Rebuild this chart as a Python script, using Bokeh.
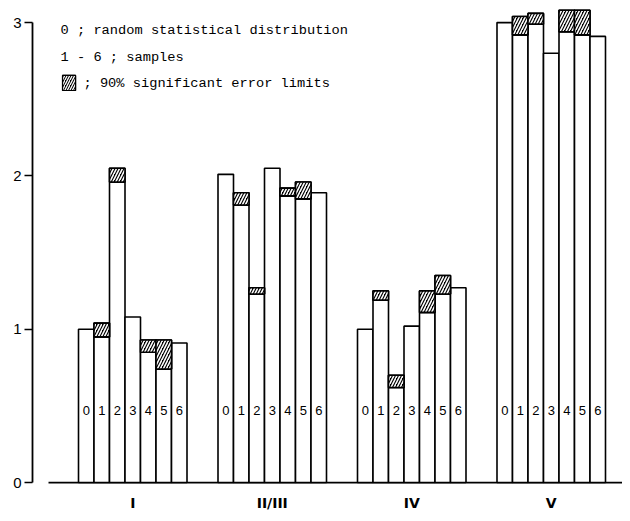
from bokeh.plotting import figure
from bokeh.models import Range1d, FixedTicker, ColumnDataSource
from bokeh.core.properties import value
from bokeh.embed import file_html
from bokeh.resources import INLINE

# ---- data ----
groups = ["I", "II/III", "IV", "V"]
samples = ["0", "1", "2", "3", "4", "5", "6"]

# top of the plain (white) part of each bar
bar_I = [1.00, 0.95, 1.96, 1.08, 0.85, 0.74, 0.91]
bar_II_III = [2.01, 1.81, 1.23, 2.05, 1.87, 1.85, 1.89]
bar_IV = [1.00, 1.19, 0.62, 1.02, 1.11, 1.23, 1.27]
bar_V = [3.00, 2.92, 2.99, 2.80, 2.94, 2.92, 2.91]

# upper 90% error limit (None = no error band drawn)
err_I = [None, 1.04, 2.05, None, 0.93, 0.93, None]
err_II_III = [None, 1.89, 1.27, None, 1.92, 1.96, None]
err_IV = [None, 1.25, 0.70, None, 1.25, 1.35, None]
err_V = [None, 3.04, 3.06, None, 3.08, 3.08, None]

y_ticks = [0, 1, 2, 3]

legend_lines = ["0 ;  random statistical distribution",
                "1 - 6 ;  samples",
                "; 90% significant error limits"]

bars = [bar_I, bar_II_III, bar_IV, bar_V]
errs = [err_I, err_II_III, err_IV, err_V]

# ---- build sources ----
step = len(samples) + 2
bl, br, bt, bx, lab = [], [], [], [], []
el, er, eb, et = [], [], [], []
for g, (vals, ers) in enumerate(zip(bars, errs)):
    for j, (v, e) in enumerate(zip(vals, ers)):
        left = g * step + j
        bl.append(left); br.append(left + 1); bt.append(v)
        bx.append(left + 0.5); lab.append(samples[j])
        if e is not None:
            el.append(left); er.append(left + 1); eb.append(v); et.append(e)

bar_src = ColumnDataSource(dict(left=bl, right=br, top=bt, x=bx, lab=lab))
err_src = ColumnDataSource(dict(left=el, right=er, bottom=eb, top=et))
grp_src = ColumnDataSource(dict(x=[g * step + len(samples) / 2 for g in range(len(groups))],
                                 name=groups))

p = figure(width=622, height=513, output_backend="svg", toolbar_location=None,
           x_axis_type=None,
           x_range=Range1d(-2.968, 35.097), y_range=Range1d(-0.202, 3.144),
           min_border_left=32, min_border_right=0, min_border_top=0, min_border_bottom=0)
p.outline_line_color = None
p.ygrid.grid_line_color = None
p.background_fill_color = "white"

ax = p.yaxis[0]
ax.ticker = FixedTicker(ticks=y_ticks)
ax.bounds = (0, 3)
ax.axis_line_width = 1.8
ax.axis_line_color = "black"
ax.major_tick_out = 8
ax.major_tick_in = 0
ax.major_tick_line_width = 1.5
ax.minor_tick_line_color = None
ax.major_label_standoff = 3
ax.major_label_text_font = "Liberation Sans"
ax.major_label_text_font_size = "15px"
ax.major_label_text_color = "black"

# baseline
p.segment(x0=[-1.935], y0=[0], x1=[35.097], y1=[0], line_color="black", line_width=1.8)

# bars
p.quad(left="left", right="right", bottom=0, top="top", source=bar_src,
       fill_color="white", line_color="black", line_width=1.6)
# error bands: black box with white diagonal stripes
p.quad(left="left", right="right", bottom="bottom", top="top", source=err_src,
       fill_color="black", line_color="black", line_width=1.6)
p.quad(left="left", right="right", bottom="bottom", top="top", source=err_src,
       fill_color=None, line_color="black", line_width=1.6,
       hatch_pattern="/", hatch_color="white", hatch_scale=6, hatch_weight=1.6)

# sample numbers inside bars
p.text(x="x", y=0.47, text="lab", source=bar_src, text_align="center",
       text_baseline="middle", text_font=value("Liberation Sans"),
       text_font_size="13px", text_color="black")

# group labels
p.text(x="x", y=-0.135, text="name", source=grp_src, text_align="center",
       text_baseline="middle", text_font=value("DejaVu Sans"),
       text_font_style="bold", text_font_size="14px", text_color="black")

# legend
p.text(x=[-1.16, -1.16], y=[2.948, 2.772], text=legend_lines[:2],
       text_align="left", text_baseline="middle", text_font=value("Liberation Mono"),
       text_font_size="13.7px", text_color="black")
p.quad(left=[-1.03], right=[-0.19], bottom=[2.557], top=[2.655],
       fill_color="black", line_color="black", line_width=1.2)
p.quad(left=[-1.03], right=[-0.19], bottom=[2.557], top=[2.655],
       fill_color=None, line_color="black", line_width=1.2,
       hatch_pattern="/", hatch_color="white", hatch_scale=5, hatch_weight=1.3)
p.text(x=[0.32], y=[2.603], text=[legend_lines[2]],
       text_align="left", text_baseline="middle", text_font=value("Liberation Mono"),
       text_font_size="13.7px", text_color="black")

open("out.html", "w").write(file_html(p, INLINE))
